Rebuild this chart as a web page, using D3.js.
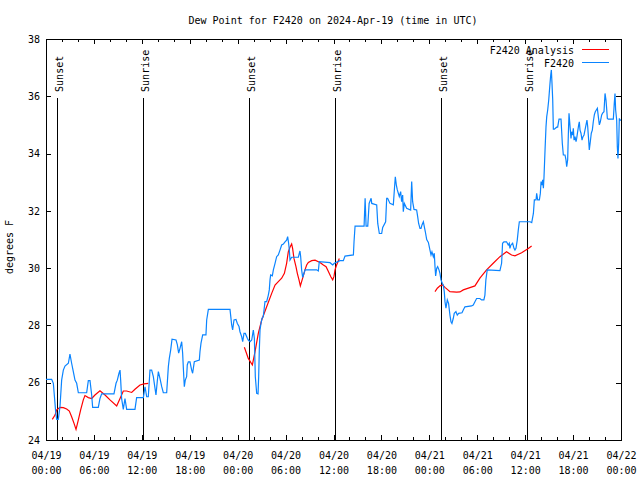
<!DOCTYPE html>
<html><head><meta charset="utf-8">
<script src="https://cdn.jsdelivr.net/npm/d3@7"></script>
<style>
body{margin:0;background:#fff}
svg{display:block}
text{font-family:"DejaVu Sans Mono",monospace;font-size:10px;fill:#000}
</style>
</head><body>
<svg id="chart" width="640" height="480"></svg>
<script>
// ---- data (hours since 2024-04-19 00:00 UTC, dew point degF) ----
const chartTitle = "Dew Point for F2420 on 2024-Apr-19 (time in UTC)";
const yLabel = "degrees F";
const yTicks = [24, 26, 28, 30, 32, 34, 36, 38];
const seriesNames = ["F2420 Analysis", "F2420"];
const sunHours = [1.42, 12.18, 25.46, 36.2, 49.5, 60.17];
const sunLabels = ["Sunset", "Sunrise", "Sunset", "Sunrise", "Sunset", "Sunrise"];

const observed = [
[0,26.12],[0.71,26.12],[0.92,25.98],[1.21,24.99],[1.34,24.72],[1.54,24.72],[1.75,25.16],[1.96,26.09],[2.17,26.44],[2.38,26.58],
[2.80,26.68],[3.0,27.0],[3.21,26.68],[3.42,26.39],[3.63,26.09],[3.84,25.98],[4.05,25.65],[5.09,25.65],[5.30,26.07],[5.51,26.07],
[5.72,25.57],[5.84,25.14],[6.55,25.14],[6.76,25.45],[6.97,25.61],[8.51,25.61],[8.77,25.98],[8.93,26.09],[9.14,26.33],[9.27,26.44],
[9.35,26.09],[9.47,25.45],[9.68,25.07],[9.89,25.45],[10.10,25.07],[11.14,25.07],[11.35,25.48],[12.19,25.48],[12.40,25.86],[12.61,25.51],
[12.81,25.51],[13.02,26.44],[13.23,26.44],[13.44,26.21],[13.65,25.80],[13.77,25.57],[13.94,26.07],[14.07,26.39],[14.27,26.15],[14.49,25.86],
[14.69,25.65],[15.11,25.65],[15.32,26.56],[15.44,26.85],[15.61,27.14],[15.78,27.52],[16.28,27.49],[16.45,27.32],[16.61,27.03],[16.78,27.20],
[16.99,27.43],[17.11,27.03],[17.19,26.56],[17.32,25.86],[17.44,26.09],[17.61,26.21],[17.69,26.62],[17.82,26.73],[18.03,26.73],[18.24,26.44],
[18.36,26.33],[18.57,26.73],[19.20,26.79],[19.28,27.08],[19.41,27.38],[19.62,27.67],[20.03,27.67],[20.12,28.19],[20.33,28.56],[23.04,28.56],
[23.25,28.02],[23.37,27.84],[23.54,28.19],[23.79,28.21],[23.96,28.07],[24.17,27.96],[24.29,27.78],[24.50,27.61],[24.63,27.43],[24.79,27.72],
[24.96,27.72],[25.21,27.55],[25.33,27.49],[25.55,27.43],[25.76,27.49],[25.96,27.84],[26.09,27.55],[26.21,26.21],[26.38,25.63],[26.55,25.61],
[26.63,26.21],[26.71,27.14],[26.80,27.84],[26.92,28.07],[27.05,28.25],[27.21,28.31],[27.42,28.83],[27.63,28.83],[27.84,29.06],[27.96,29.24],
[28.05,29.59],[28.13,29.76],[28.34,29.73],[28.47,29.94],[28.68,30.17],[28.88,30.40],[29.09,30.46],[29.30,30.63],[29.51,30.81],[29.72,30.84],
[29.93,30.92],[30.13,30.98],[30.26,31.10],[30.38,30.87],[30.47,30.63],[30.55,30.28],[30.76,30.38],[31.60,30.38],[31.72,30.52],[31.80,30.60],
[31.89,30.40],[32.01,29.94],[32.14,29.68],[32.31,29.82],[32.43,29.94],[33.89,29.94],[34.10,29.90],[34.22,30.23],[35.56,30.19],[35.90,30.11],
[36.10,30.17],[36.81,30.26],[37.23,30.26],[37.44,30.42],[38.49,30.46],[38.57,30.92],[38.70,31.47],[39.83,31.47],[39.96,32.44],[40.08,31.47],
[40.29,31.47],[40.46,32.26],[40.71,32.44],[40.79,32.26],[41.41,32.21],[41.54,31.56],[41.74,31.21],[42.03,31.21],[42.16,31.42],[42.53,31.62],
[42.66,32.44],[42.78,32.44],[43.07,32.26],[43.49,32.21],[43.62,32.73],[43.74,33.19],[43.87,32.90],[43.99,32.73],[44.24,32.50],[44.41,32.67],
[44.53,32.32],[44.66,32.55],[44.74,31.97],[44.87,32.26],[45.16,32.09],[45.66,32.03],[45.79,33.02],[45.91,32.32],[46.08,32.05],[46.41,32.03],
[46.54,31.80],[46.66,31.56],[46.83,31.39],[46.96,31.39],[47.08,31.51],[47.25,31.62],[47.37,31.45],[47.50,31.27],[47.67,31.0],[47.88,30.9],
[48.08,30.63],[48.21,30.46],[48.33,30.57],[48.50,30.40],[48.62,30.52],[48.71,30.05],[48.79,29.73],[48.92,29.99],[49.04,30.05],[49.21,29.94],
[49.33,29.82],[49.46,29.59],[49.62,29.47],[49.75,29.41],[49.87,29.18],[49.96,28.83],[50.08,28.60],[50.25,28.89],[50.41,28.77],[50.58,28.36],
[50.71,28.13],[50.83,28.07],[51.00,28.25],[51.12,28.42],[51.33,28.48],[51.50,28.36],[51.67,28.42],[52.09,28.44],[52.25,28.54],[52.46,28.65],
[53.29,28.68],[53.50,28.71],[53.71,28.83],[53.92,28.94],[54.33,28.94],[54.54,28.89],[54.83,28.89],[54.96,29.06],[55.08,29.59],[55.25,29.94],
[56.84,29.91],[57.05,30.17],[57.17,30.87],[57.34,30.92],[57.67,30.92],[57.88,30.81],[58.01,30.87],[58.09,30.69],[58.22,30.81],[58.43,30.87],
[58.60,30.69],[58.72,30.63],[58.85,30.69],[59.01,30.98],[59.14,31.33],[59.27,31.62],[60.61,31.62],[60.82,31.59],[61.03,31.91],[61.15,32.38],
[61.36,32.38],[61.44,32.61],[61.57,32.38],[61.78,32.38],[61.90,32.61],[61.99,33.02],[62.11,32.90],[62.19,33.08],[62.28,32.79],[62.36,33.19],
[62.49,34.13],[62.61,34.94],[62.70,35.29],[62.82,35.52],[62.95,35.87],[63.11,36.45],[63.20,36.74],[63.28,36.92],[63.36,36.45],[63.45,35.87],
[63.53,34.85],[63.65,34.85],[63.94,34.92],[64.07,34.92],[64.24,35.20],[64.49,35.20],[64.65,34.36],[64.78,33.95],[64.99,33.95],[65.11,33.78],
[65.20,33.54],[65.32,33.78],[65.41,34.71],[65.49,35.41],[65.62,34.94],[65.74,34.53],[65.82,34.76],[65.95,34.65],[66.03,34.88],[66.12,34.47],
[66.24,34.59],[66.37,34.42],[66.45,34.53],[66.57,34.76],[66.70,35.0],[66.78,35.11],[66.87,34.82],[66.99,34.71],[67.12,34.47],[67.24,34.59],
[67.37,34.65],[67.49,34.82],[67.62,35.0],[67.74,35.17],[67.83,34.94],[67.95,34.47],[68.03,34.13],[68.16,34.42],[68.28,34.71],[68.41,34.82],
[68.53,35.11],[68.66,35.35],[68.78,35.46],[68.91,35.52],[69.04,35.58],[69.16,35.29],[69.29,35.0],[69.41,35.11],[69.58,35.35],[69.70,35.41],
[69.87,35.46],[70.00,36.10],[70.12,35.87],[70.20,35.58],[70.29,35.23],[70.41,35.20],[71.04,35.20],[71.16,35.76],[71.25,36.10],[71.33,35.52],
[71.46,35.17],[71.54,34.24],[71.62,33.83],[71.71,34.36],[71.79,35.23],[71.87,35.17],[72.0,35.17]
];

const analysis = [
[0.79,24.72],[1.13,24.87],[1.34,25.05],[1.75,25.14],[2.17,25.13],[2.59,25.08],[2.92,25.01],[3.21,24.81],[3.51,24.58],[3.76,24.37],
[4.05,24.70],[4.34,25.05],[4.67,25.40],[4.88,25.55],[5.30,25.48],[5.72,25.45],[6.13,25.57],[6.76,25.72],[7.39,25.57],[8.01,25.40],
[8.85,25.19],[9.27,25.45],[9.68,25.71],[10.10,25.71],[10.73,25.66],[11.14,25.77],[11.77,25.92],[12.27,25.96],[12.81,25.98],
[18,null],
[24.84,27.24],[25.33,26.85],[25.84,26.62],[26.17,27.08],[26.59,27.73],[27.01,28.19],[27.63,28.65],[28.26,29.12],[28.68,29.41],[29.09,29.53],
[29.51,29.65],[29.85,29.82],[30.13,30.17],[30.34,30.57],[30.55,30.73],[30.76,30.84],[30.88,30.69],[31.05,30.34],[31.30,30.05],[31.47,29.82],
[31.68,29.59],[31.85,29.38],[32.01,29.53],[32.22,29.73],[32.43,29.94],[32.64,30.11],[32.85,30.20],[33.27,30.26],[33.69,30.28],[34.31,30.20],
[34.73,30.11],[35.07,30.05],[35.36,29.88],[35.65,29.71],[35.90,29.59],[36.06,29.71],[36.19,29.94],[36.39,30.11],[36.73,30.34],
[42,null],
[48.71,29.18],[49.0,29.30],[49.33,29.38],[49.66,29.41],[49.96,29.33],[50.25,29.26],[50.58,29.18],[51.42,29.16],[51.83,29.17],[52.25,29.24],
[53.08,29.32],[53.71,29.38],[54.33,29.65],[55.17,29.94],[56.0,30.17],[56.84,30.40],[57.67,30.57],[58.30,30.46],[58.72,30.43],[59.56,30.54],
[60.39,30.69],[60.81,30.77]
];

// ---- drawing ----
const svg = d3.select("#chart");
const t0 = Date.UTC(2024, 3, 19);
const toDate = h => new Date(t0 + h * 3600e3);
const L = 46, R = 621, T = 39, B = 440;

const x = d3.scaleUtc().domain([toDate(0), toDate(72)]).range([L, R]);
const y = d3.scaleLinear().domain([24, 38]).range([B, T]);

const fmtDate = d3.utcFormat("%m/%d");
const fmtTime = d3.utcFormat("%H:%M");

function styleAxis(g) {
  g.select(".domain").remove();
  g.attr("font-family", "DejaVu Sans Mono, monospace").attr("font-size", 10);
  g.selectAll(".tick line").attr("stroke", "#000").attr("shape-rendering", "crispEdges");
}

// bottom major ticks with two-line labels
const gxb = svg.append("g").attr("transform", `translate(0,${B})`)
  .call(d3.axisBottom(x).ticks(d3.utcHour.every(6)).tickSizeInner(-5).tickSizeOuter(0).tickFormat(() => ""));
styleAxis(gxb);
gxb.selectAll(".tick text").each(function(d) {
  const t = d3.select(this).attr("dy", null).attr("y", null);
  t.append("tspan").attr("x", 0).attr("y", 19).text(fmtDate(d));
  t.append("tspan").attr("x", 0).attr("y", 34).text(fmtTime(d));
});
// bottom minor ticks
const minorTicks = x.ticks(d3.utcHour.every(2)).filter(d => d.getUTCHours() % 6 !== 0);
const gxbm = svg.append("g").attr("transform", `translate(0,${B})`)
  .call(d3.axisBottom(x).tickValues(minorTicks).tickSizeInner(-3).tickSizeOuter(0).tickFormat(() => ""));
styleAxis(gxbm);
// top ticks
const gxt = svg.append("g").attr("transform", `translate(0,${T})`)
  .call(d3.axisTop(x).ticks(d3.utcHour.every(6)).tickSizeInner(-5).tickSizeOuter(0).tickFormat(() => ""));
styleAxis(gxt);
const gxtm = svg.append("g").attr("transform", `translate(0,${T})`)
  .call(d3.axisTop(x).tickValues(minorTicks).tickSizeInner(-3).tickSizeOuter(0).tickFormat(() => ""));
styleAxis(gxtm);

// y axes
const gyl = svg.append("g").attr("transform", `translate(${L},0)`)
  .call(d3.axisLeft(y).tickValues(yTicks).tickSizeInner(-5).tickSizeOuter(0).tickPadding(6).tickFormat(d3.format("d")));
styleAxis(gyl);
gyl.selectAll(".tick text").attr("fill", "#000");
const gyr = svg.append("g").attr("transform", `translate(${R},0)`)
  .call(d3.axisRight(y).tickValues(yTicks).tickSizeInner(-5).tickSizeOuter(0).tickFormat(() => ""));
styleAxis(gyr);

// frame
svg.append("rect").attr("x", L + 0.5).attr("y", T + 0.5).attr("width", R - L).attr("height", B - T)
  .attr("fill", "none").attr("stroke", "#000").attr("shape-rendering", "crispEdges");

// sunrise / sunset markers
const lineTopY = B - 0.853 * (B - T);
const labelY = B - 0.868 * (B - T);
sunHours.forEach((h, i) => {
  const xs = Math.round(x(toDate(h))) + 0.5;
  svg.append("line").attr("x1", xs).attr("x2", xs).attr("y1", lineTopY).attr("y2", B)
    .attr("stroke", "#000").attr("shape-rendering", "crispEdges");
  svg.append("text").attr("transform", `translate(${xs + 5},${labelY}) rotate(-90)`)
    .attr("text-anchor", "start").text(sunLabels[i]);
});

// data lines
const line = d3.line()
  .defined(d => d[1] !== null)
  .x(d => x(toDate(d[0])))
  .y(d => y(d[1]));

svg.append("path").datum(analysis).attr("d", line)
  .attr("fill", "none").attr("stroke", "#ff0000").attr("stroke-width", 1.2);
svg.append("path").datum(observed).attr("d", line)
  .attr("fill", "none").attr("stroke", "#0a84ff").attr("stroke-width", 1.2);

// legend
const legendColors = ["#ff0000", "#0a84ff"];
seriesNames.forEach((name, i) => {
  const ly = 49.5 + i * 13;
  svg.append("text").attr("x", 574).attr("y", ly + 4).attr("text-anchor", "end").text(name);
  svg.append("line").attr("x1", 582).attr("x2", 609).attr("y1", ly).attr("y2", ly)
    .attr("stroke", legendColors[i]).attr("shape-rendering", "crispEdges");
});

// title and y label
svg.append("text").attr("x", 333).attr("y", 24).attr("text-anchor", "middle").text(chartTitle);
svg.append("text").attr("transform", `translate(13,247) rotate(-90)`).attr("text-anchor", "middle").text(yLabel);
</script>
</body></html>
